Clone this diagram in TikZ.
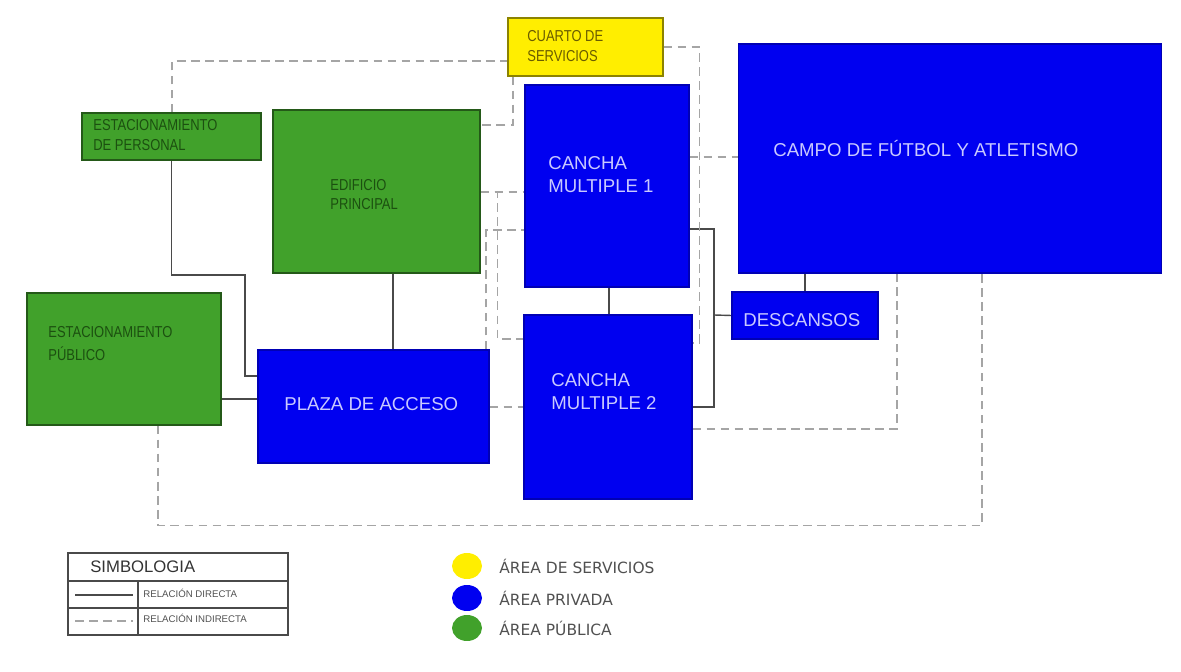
\documentclass[tikz,border=0pt]{standalone}
\usepackage{fontspec}
\setmainfont{Liberation Sans}
\newfontfamily\leyendafont{DejaVu Sans}
\usepackage{graphicx}
\usepackage{xcolor}
\usetikzlibrary{positioning, shapes.geometric, backgrounds}
\definecolor{azul}{HTML}{0000F0}
\definecolor{verde}{HTML}{41A12B}
\definecolor{amarillo}{HTML}{FFEE00}
\definecolor{lavanda}{HTML}{C9C9FF}
\definecolor{verdeosc}{HTML}{1C5010}
\definecolor{oliva}{HTML}{6A5C00}
\definecolor{lineaosc}{HTML}{4A4A4A}
\definecolor{lineaclara}{HTML}{A5A5A5}
\definecolor{textogris}{HTML}{505050}
\newcommand{\estrecho}[1]{\scalebox{0.82}[1]{#1}}

\begin{document}
\begin{tikzpicture}[x=0.02cm, y=-0.02cm,
    zona/.style={rectangle, inner sep=0pt, line width=0.6pt},
    areapriv/.style={zona, fill=azul, draw=azul!75!black},
    areapub/.style={zona, fill=verde, draw=verde!55!black},
    areaserv/.style={zona, fill=amarillo, draw=amarillo!55!black},
    txtpriv/.style={inner sep=0pt, anchor=west, align=left, text=lavanda, font=\fontsize{10.6}{13}\selectfont},
    txtpub/.style={inner sep=0pt, anchor=west, align=left, text=verdeosc, font=\fontsize{9}{11}\selectfont},
    txtserv/.style={txtpub, text=oliva},
    directa/.style={draw=lineaosc, line width=0.8pt},
    indirecta/.style={draw=lineaclara, line width=0.8pt, dash pattern=on 5pt off 3pt},
    marco/.style={draw=lineaosc, line width=0.6pt},
    txtley/.style={inner sep=0pt, anchor=west, text=textogris}]
  \useasboundingbox (0,0) rectangle (1181,672);

  % zonas
  \node[areaserv, minimum width=3.10cm, minimum height=1.16cm] (cuarto) at (585.5,47) {};
  \node[areapub, minimum width=3.58cm, minimum height=0.94cm] (personal) at (171.5,136.5) {};
  \node[areapub, minimum width=4.14cm, minimum height=3.26cm] (edificio) at (376.5,191.5) {};
  \node[areapub, minimum width=3.88cm, minimum height=2.64cm] (publico) at (124,359) {};
  \node[areapriv, minimum width=4.62cm, minimum height=2.26cm] (plaza) at (373.5,406.5) {};
  \node[areapriv, minimum width=3.28cm, minimum height=4.04cm] (cancha1) at (607,186) {};
  \node[areapriv, minimum width=3.36cm, minimum height=3.68cm] (cancha2) at (608,407) {};
  \node[areapriv, minimum width=8.48cm, minimum height=4.58cm] (campo) at (950,158.5) {};
  \node[areapriv, minimum width=2.92cm, minimum height=0.94cm] (descansos) at (805,315.5) {};

  % textos
  \node[txtserv] (tcuarto) at (527,46) {\estrecho{CUARTO DE}\\\estrecho{SERVICIOS}};
  \node[txtpub, font=\fontsize{9}{11.3}\selectfont] (tpersonal) at (93,135) {\estrecho{ESTACIONAMIENTO}\\\estrecho{DE PERSONAL}};
  \node[txtpub, font=\fontsize{9}{10.8}\selectfont] (tedificio) at (330,194.5) {\estrecho{EDIFICIO}\\\estrecho{PRINCIPAL}};
  \node[txtpub, font=\fontsize{9}{13}\selectfont] (tpublico) at (48,343.5) {\estrecho{ESTACIONAMIENTO}\\\estrecho{PÚBLICO}};
  \node[txtpriv] (tplaza) at (284,404) {PLAZA DE ACCESO};
  \node[txtpriv] (tcancha1) at (548,174.5) {CANCHA\\MULTIPLE 1};
  \node[txtpriv] (tcancha2) at (551,391.5) {CANCHA\\MULTIPLE 2};
  \node[txtpriv] (tcampo) at (773,149) {CAMPO DE FÚTBOL Y ATLETISMO};
  \node[txtpriv] (tdescansos) at (743,320) {DESCANSOS};

  \coordinate (bus) at (714,315);

  \begin{scope}[on background layer]
    % relaciones directas
    \draw[directa] (personal.south) |- (245,275) |- (plaza.west |- 0,376);
    \draw[directa] (publico.east |- 0,399) -- (plaza.west |- 0,399);
    \draw[directa] (edificio.south -| 393,0) -- (plaza.north -| 393,0);
    \draw[directa] (cancha1.south -| 609,0) -- (cancha2.north -| 609,0);
    \draw[directa] (cancha1.east |- 0,229) -| (bus) |- (cancha2.east |- 0,407);
    \draw[directa] (bus) -- (descansos.west);
    \draw[directa] (campo.south -| descansos.north) -- (descansos.north);

    % relaciones indirectas
    \draw[indirecta] (personal.north -| 172,0) |- (cuarto.west |- 0,61);
    \draw[indirecta] (cuarto.south -| 513,0) |- (edificio.east |- 0,125);
    \draw[indirecta] (cuarto.east) -- ++(36,0) |- (cancha2.east |- 0,343);
    \draw[indirecta] (cancha1.east |- 0,157) -- (campo.west |- 0,157);
    \draw[indirecta] (edificio.east |- 0,192) -- (cancha1.west |- 0,192);
    \draw[indirecta] (edificio.east |- 0,192) -- ++(17,0) |- (cancha2.west |- 0,339);
    \draw[indirecta] (plaza.north -| 486,0) |- (cancha1.west |- 0,230);
    \draw[indirecta] (plaza.east |- 0,407) -- (cancha2.west |- 0,407);
    \draw[indirecta] (cancha2.east |- 0,429) -| (campo.south -| 897,0);
    \draw[indirecta] (publico.south -| 158,0) -- ++(0,100) -| (campo.south -| 982,0);
  \end{scope}

  % simbologia
  \draw[marco] (68,553) rectangle (288,635);
  \draw[marco] (68,581) -- (288,581) (68,608) -- (288,608) (138,581) -- (138,635);
  \draw[directa] (75,595) -- (133,595);
  \draw[indirecta] (75,621) -- (133,621);
  \node[txtley, text=black!80, font=\fontsize{9.5}{11}\selectfont] (simbologia) at (90,567) {SIMBOLOGIA};
  \node[txtley, font=\fontsize{5.5}{6}\selectfont] (ldirecta) at (143,593) {RELACIÓN DIRECTA};
  \node[txtley, font=\fontsize{5.5}{6}\selectfont] (lindirecta) at (143,618) {RELACIÓN INDIRECTA};

  % leyenda de colores
  \node[ellipse, fill=amarillo, inner sep=0pt, minimum width=0.6cm, minimum height=0.52cm] (cserv) at (467,566) {};
  \node[ellipse, fill=azul, inner sep=0pt, minimum width=0.6cm, minimum height=0.52cm] (cpriv) at (467,598) {};
  \node[ellipse, fill=verde, inner sep=0pt, minimum width=0.6cm, minimum height=0.52cm] (cpub) at (467,628) {};
  \node[txtley, font=\leyendafont\fontsize{8.8}{10}\selectfont] (lserv) at (499,566) {ÁREA DE SERVICIOS};
  \node[txtley, font=\leyendafont\fontsize{8.8}{10}\selectfont] (lpriv) at (499,598) {ÁREA PRIVADA};
  \node[txtley, font=\leyendafont\fontsize{8.8}{10}\selectfont] (lpub) at (499,628) {ÁREA PÚBLICA};
\end{tikzpicture}
\end{document}
